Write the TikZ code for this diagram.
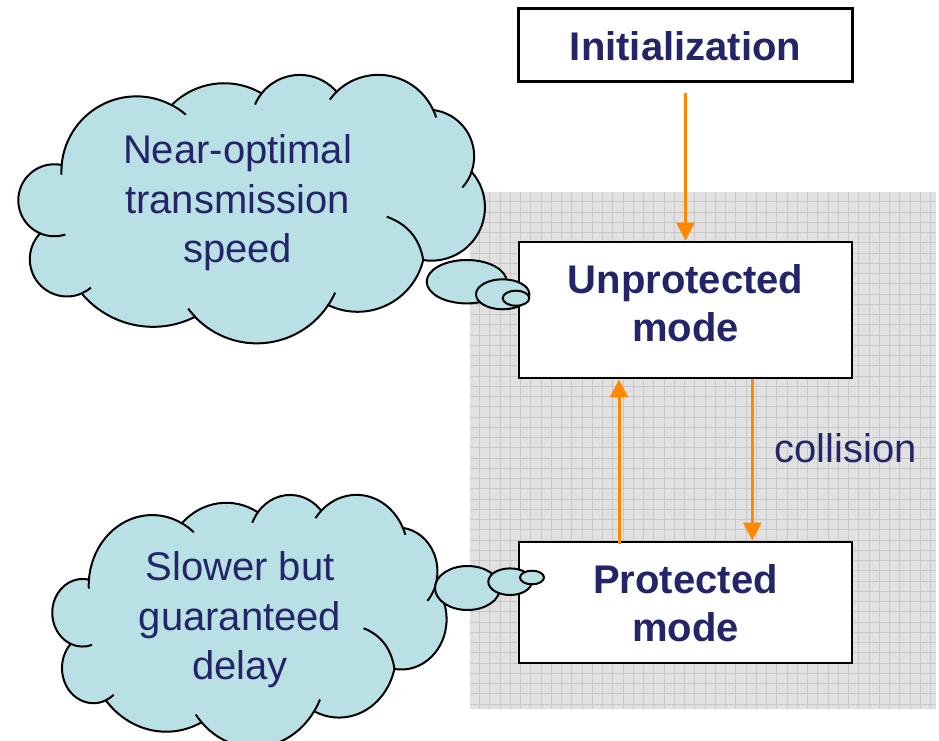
\documentclass[tikz,border=0pt]{standalone}
\usepackage{fontspec}
\setmainfont{Liberation Sans}
\usetikzlibrary{arrows.meta,shapes.geometric}
\definecolor{navy}{RGB}{36,36,104}
\definecolor{orangeC}{RGB}{255,136,0}
\definecolor{cloudfill}{RGB}{185,224,228}
\definecolor{gridbg}{RGB}{225,225,225}
\definecolor{gridln}{RGB}{200,200,200}

\newcommand\mycloudpath{(40,233.3)
 arc[start angle=113.4, end angle=281.8, radius=36]
 arc[start angle=184.9, end angle=297.9, radius=75.1]
 arc[start angle=224.9, end angle=300.3, radius=74.2]
 arc[start angle=218.4, end angle=319.1, radius=48.7]
 arc[start angle=226.0, end angle=335.4, radius=60.2]
 arc[start angle=277.0, end angle=379.25, radius=46.7]
 arc[start angle=-41.5, end angle=98.9, radius=53.5]
 arc[start angle=13.5, end angle=115.8, radius=67.5]
 arc[start angle=33.5, end angle=136.4, radius=85.5]
 arc[start angle=63.2, end angle=140.1, radius=93]
 arc[start angle=66.9, end angle=223.5, radius=37.3]
 -- cycle}

\newcommand\mycloudinner{%
 \draw[cloudline] (40,233.3) arc[start angle=113.4, end angle=72, radius=36];
 \draw[cloudline] (61.7,165) arc[start angle=184.9, end angle=177.5, radius=75.1];
 \draw[cloudline] (171.7,105) arc[start angle=297.9, end angle=311, radius=75.1];
 \draw[cloudline] (261.7,93.3) arc[start angle=218.4, end angle=203, radius=48.7];
 \draw[cloudline] (336.7,91.7) arc[start angle=226, end angle=216, radius=60.2];
 \draw[cloudline] (433.3,110) arc[start angle=335.4, end angle=343, radius=60.2];
 \draw[cloudline] (471.7,171.7) arc[start angle=19.25, end angle=42, radius=46.7];
 \draw[cloudline] (423.3,260) to[bend right=30] (386.7,216.7);
 \draw[cloudline] (328.3,305) arc[start angle=33.5, end angle=24, radius=85.5];
 \draw[cloudline] (195,316.7) arc[start angle=136.4, end angle=143.5, radius=85.5];
 \draw[cloudline] (81.7,293.3) arc[start angle=66.9, end angle=50, radius=37.3];
}

\begin{document}
\begin{tikzpicture}[x=1pt,y=-1pt,
  cloudshape/.style={draw=black, line width=2pt, fill=cloudfill, line join=miter},
  cloudline/.style={draw=black, line width=2pt},
  bubble/.style={ellipse, draw=black, line width=2pt, fill=cloudfill, inner sep=0pt},
  cloudtxt/.style={text=navy, align=center, inner sep=0pt, font=\fontsize{40}{49.5}\selectfont},
  statebox/.style={draw=black, line width=2.8pt, fill=white, inner sep=0pt},
  boxtxt/.style={text=navy, align=center, inner sep=0pt, font=\bfseries\fontsize{40}{48.2}\selectfont},
  arr/.style={draw=orangeC, line width=3pt, -{Triangle[width=18pt,length=18pt]}},
  lbl/.style={text=navy, inner sep=0pt, font=\fontsize{40}{48}\selectfont}
]
\useasboundingbox (0,0) rectangle (939,741);
\fill[white] (0,0) rectangle (939,741);

% grid background
\fill[gridbg] (469.5,191.7) rectangle (936,709);
\foreach \i in {0,...,44} {
  \draw[gridln, line width=0.9pt] ({479.5+10.25*\i},191.7) -- ({479.5+10.25*\i},709);
}
\foreach \j in {0,...,49} {
  \draw[gridln, line width=0.9pt] (469.5,{201.75+10.25*\j}) -- (936,{201.75+10.25*\j});
}

% cloud 1
\path[cloudshape] \mycloudpath;
\mycloudinner
% cloud 2
\begin{scope}[shift={(36.8,424.5)}, xscale=0.845, yscale=0.94]
\path[cloudshape] \mycloudpath;
\mycloudinner
\end{scope}

\node[cloudtxt] (t1) at (237.5,202.7) {Near-optimal\\transmission\\speed};
\node[cloudtxt] (t2) at (240,620) {Slower but\\guaranteed\\delay};

% state boxes
\node[statebox, minimum width=334pt, minimum height=73pt] (init) at (685.5,45) {};
\node[statebox, minimum width=333pt, minimum height=136pt] (unprot) at (685.5,310) {};
\node[statebox, minimum width=333pt, minimum height=121pt] (prot) at (685.5,602.5) {};
\node[boxtxt] (inittxt) at (685.5,46) {Initialization};
\node[boxtxt] (unprottxt) at (685.5,303) {Unprotected\\mode};
\node[boxtxt] (prottxt) at (685.5,603.3) {Protected\\mode};

% arrows
\draw[arr] ([yshift=-10pt]init.south) -- (unprot.north);
\draw[arr] ([xshift=-66.5pt,yshift=-3pt]prot.north) -- ([xshift=-66.5pt]unprot.south);
\draw[arr] ([xshift=66.8pt]unprot.south) -- ([xshift=66.8pt]prot.north);
\node[lbl] (coll) at (845.5,448) {collision};

% thought bubbles
\node[bubble, minimum width=80pt, minimum height=43.4pt] (b1a) at (466.7,281.7) {};
\node[bubble, minimum width=53.4pt, minimum height=30pt] (b1b) at (502.7,294.3) {};
\node[bubble, minimum width=26.6pt, minimum height=15pt] (b1c) at (516,298.2) {};
\node[bubble, minimum width=65pt, minimum height=44pt] (b2a) at (467.5,588) {};
\node[bubble, minimum width=43.4pt, minimum height=26.6pt] (b2b) at (510,581.7) {};
\node[bubble, minimum width=24pt, minimum height=13.6pt] (b2c) at (532,577.5) {};
\end{tikzpicture}
\end{document}
